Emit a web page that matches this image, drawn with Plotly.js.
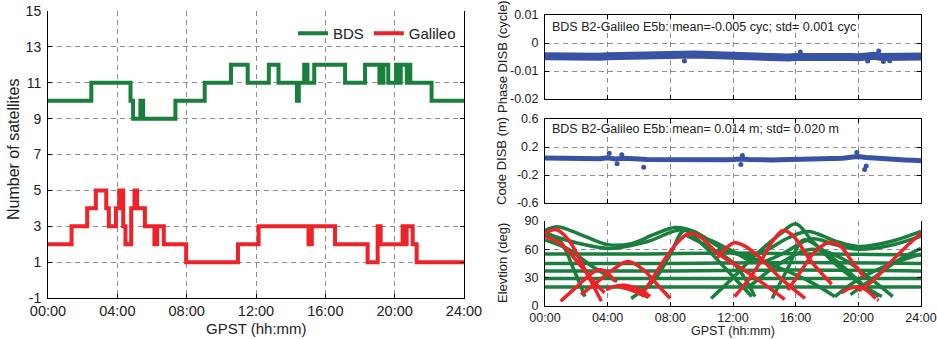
<!DOCTYPE html>
<html>
<head>
<meta charset="utf-8">
<script src="https://cdn.plot.ly/plotly-3.0.1.min.js"></script>
<style>html,body{margin:0;padding:0;background:#fff;}#chart{width:937px;height:339px;}</style>
</head>
<body>
<div id="chart"></div>
<script>
// ---------- DATA ----------
const hourTicks = [0, 4, 8, 12, 16, 20, 24];
const hourLabels = ['00:00', '04:00', '08:00', '12:00', '16:00', '20:00', '24:00'];

// Number of satellites (step series)
const bdsTime = [0, 2.5, 4.76, 4.91, 5.33, 5.49, 7.35, 9.04, 10.56, 11.52, 12.74, 13.3, 14.36, 14.47, 14.78, 14.97, 15.36, 17.14, 18.29, 19.12, 19.35, 19.63, 20.08, 20.25, 20.35, 20.7, 20.8, 20.9, 22.13, 24];
const bdsCount = [10, 11, 10, 9, 10, 9, 10, 11, 12, 11, 12, 11, 10, 11, 12, 11, 12, 11, 12, 11, 12, 11, 12, 11, 12, 11, 12, 11, 10, 10];
const galTime = [0, 1.36, 2.26, 2.76, 3.36, 3.51, 3.92, 4.11, 4.34, 4.47, 4.80, 4.99, 5.14, 5.59, 6.14, 6.30, 6.68, 7.97, 10.96, 12.15, 15.03, 15.22, 16.56, 18.44, 19.02, 19.19, 20.46, 20.55, 20.69, 21.04, 21.27, 24];
const galCount = [2, 3, 4, 5, 4, 3, 4, 5, 3, 2, 4, 5, 4, 3, 2, 3, 2, 1, 2, 3, 2, 3, 2, 1, 3, 2, 3, 2, 3, 2, 1, 1];

// DISB series (half-hour samples of the band)
const disbTime = [0,0.5,1,1.5,2,2.5,3,3.5,4,4.5,5,5.5,6,6.5,7,7.5,8,8.5,9,9.5,10,10.5,11,11.5,12,12.5,13,13.5,14,14.5,15,15.5,16,16.5,17,17.5,18,18.5,19,19.5,20,20.5,21,21.5,22,22.5,23,23.5,24];
const phaseDisb = [-0.0047,-0.0048,-0.0047,-0.0049,-0.0048,-0.0047,-0.0048,-0.0049,-0.0047,-0.0046,-0.0045,-0.0044,-0.0043,-0.0041,-0.0039,-0.0038,-0.0038,-0.0039,-0.0040,-0.0041,-0.0042,-0.0043,-0.0045,-0.0046,-0.0047,-0.0049,-0.0051,-0.0053,-0.0054,-0.0054,-0.0053,-0.0052,-0.0050,-0.0049,-0.0048,-0.0048,-0.0047,-0.0048,-0.0049,-0.0050,-0.0051,-0.0048,-0.0046,-0.0050,-0.0049,-0.0048,-0.0049,-0.0048,-0.0048];
const phaseOutT = [8.9, 16.3, 20.6, 21.3, 21.6, 22.0];
const phaseOutV = [-0.0064, -0.0032, -0.0064, -0.0029, -0.0066, -0.0063];
const codeDisb = [0.043,0.040,0.042,0.038,0.036,0.037,0.035,0.033,0.045,0.030,0.040,0.025,0.028,0.022,0.020,0.018,0.016,0.018,0.015,0.013,0.014,0.012,0.015,0.018,0.020,0.030,0.022,0.016,0.013,0.015,0.018,0.020,0.017,0.015,0.016,0.018,0.022,0.030,0.040,0.055,0.065,0.050,0.040,0.030,0.025,0.020,0.015,0.010,0.005];
const codeOutT = [4.1, 4.6, 4.9, 6.3, 12.5, 12.6, 19.9, 20.4, 20.5];
const codeOutV = [0.11, -0.04, 0.09, -0.09, -0.05, 0.08, 0.12, -0.12, -0.07];

// Elevation tracks: [hour, elevation] pairs
const bdsTracks = [
  [[0,55],[6,55],[12,56],[18,55],[24,54]],
  [[0,45],[8,45],[16,46],[24,45]],
  [[0,37],[8,37],[16,38],[24,37]],
  [[0,29],[8,29],[16,29],[24,29]],
  [[0,20],[8,20],[16,20],[24,20]],
  [[0,80],[0.8,84],[2.5,74],[4,65],[5.5,66],[7,76],[8.3,83],[9.5,79],[11,64],[12.5,54],[14,58],[15.5,72],[16.8,79],[18.5,69],[20,63],[22,68],[24,79]],
  [[0,77],[2,67],[4.2,61],[6.5,68],[8.8,81],[10.5,70],[12,58],[13.5,46],[15,54],[17,71],[18.5,65],[20,60],[22,64],[24,74]],
  [[0,78],[1,68],[1.8,40],[2.55,10]],
  [[0,70],[1.5,60],[3,42],[4.6,26]],
  [[5.5,8],[7,28],[8,55],[8.9,80],[10,66],[11.5,40],[13.2,10]],
  [[10.6,8],[12,30],[13.5,55],[15,76],[16,87],[17,70],[18.5,45],[20,25],[21.3,10]],
  [[9,75],[10.5,62],[12,46],[12.8,28],[13.4,10]],
  [[14.5,8],[15.5,40],[16.5,70],[17.5,62],[19,42],[20.5,20],[21.5,10]],
  [[18.5,10],[20,28],[22,44],[24,55]],
  [[19.5,12],[21,30],[22.5,48],[24,61]],
  [[13,20],[15,45],[17,60],[19,50],[21,26],[22.2,10]],
  [[11,60],[13,52],[15,40],[17,25],[18.5,10]]
];
const galTracks = [
  [[0,77],[0.7,81],[1.5,70],[2.5,40],[3.6,5]],
  [[0,74],[1,66],[2,48],[3,28],[3.8,14]],
  [[1,5],[2,20],[3.2,37],[3.7,38],[4.5,26]],
  [[2.3,12],[3.3,25],[4.3,38],[5.3,47],[6.3,38],[7.2,22],[8,8]],
  [[3.9,17],[4.5,21],[5.1,22],[5.8,19],[6.4,14],[6.7,10]],
  [[4.8,20],[5.5,17],[6.3,11]],
  [[5,20],[5.8,15],[6.6,9]],
  [[6.2,12],[7,33],[8,58],[8.8,73],[9.3,77],[10,72],[11,56],[12.8,37],[15.3,7]],
  [[11,51],[11.6,62],[12.1,67],[12.7,64],[13.6,53],[15,30],[16.6,8]],
  [[12.1,10],[13,28],[13.8,48],[14.5,68],[15.2,80],[15.8,75],[17,47],[18.3,23]],
  [[15.5,17],[16.3,36],[17.2,57],[18.1,67],[18.8,64],[19.6,47],[20.4,30]],
  [[18.9,14],[19.5,19],[20,20],[20.5,17],[21.1,8]],
  [[20,16],[21,28],[22.1,47],[23,62],[24,77]],
  [[21.2,7],[21.3,6]]
];

// ---------- STYLE ----------
const GREEN = '#1a7f3c', RED = '#ee2229', BLUE = '#3953a4';
const FONT = 'Liberation Sans, Arial, sans-serif';
const GRID = '#8f8f8f';

const traces = [];
traces.push({x: bdsTime, y: bdsCount, type: 'scatter', mode: 'lines', name: 'BDS',
  line: {shape: 'hv', color: GREEN, width: 4}, xaxis: 'x', yaxis: 'y'});
traces.push({x: galTime, y: galCount, type: 'scatter', mode: 'lines', name: 'Galileo',
  line: {shape: 'hv', color: RED, width: 4}, xaxis: 'x', yaxis: 'y'});

traces.push({x: disbTime, y: phaseDisb, type: 'scatter', mode: 'lines', showlegend: false,
  line: {color: BLUE, width: 8, shape: 'linear'}, xaxis: 'x2', yaxis: 'y2'});
traces.push({x: phaseOutT, y: phaseOutV, type: 'scatter', mode: 'markers', showlegend: false,
  marker: {color: BLUE, size: 5}, xaxis: 'x2', yaxis: 'y2'});
traces.push({x: disbTime, y: codeDisb, type: 'scatter', mode: 'lines', showlegend: false,
  line: {color: BLUE, width: 5}, xaxis: 'x3', yaxis: 'y3'});
traces.push({x: codeOutT, y: codeOutV, type: 'scatter', mode: 'markers', showlegend: false,
  marker: {color: BLUE, size: 5}, xaxis: 'x3', yaxis: 'y3'});

bdsTracks.forEach(tr => traces.push({x: tr.map(p => p[0]), y: tr.map(p => p[1]), type: 'scatter',
  mode: 'lines', showlegend: false, line: {color: GREEN, width: 3.5, shape: 'spline', smoothing: 1},
  xaxis: 'x4', yaxis: 'y4'}));
galTracks.forEach(tr => traces.push({x: tr.map(p => p[0]), y: tr.map(p => p[1]), type: 'scatter',
  mode: 'lines', showlegend: false, line: {color: RED, width: 3.5, shape: 'spline', smoothing: 1},
  xaxis: 'x4', yaxis: 'y4'}));

const W = 937, H = 339;
const px = v => v / W, py = v => 1 - v / H;

function xax(dom, anchor, showLabels, mirror) {
  return {domain: dom, anchor: anchor, range: [0, 24], tickvals: hourTicks, ticktext: hourLabels,
    showticklabels: showLabels, showgrid: true, gridcolor: GRID, griddash: '5px,4px', gridwidth: 1,
    showline: true, linecolor: '#000', linewidth: 1, mirror: mirror, ticks: 'inside', ticklen: 4,
    tickcolor: '#000', zeroline: false, fixedrange: true, ticklabeloverflow: 'allow'};
}
function yax(dom, anchor, range, vals, labels, size) {
  return {domain: dom, anchor: anchor, range: range, tickvals: vals, ticktext: labels,
    showgrid: true, gridcolor: GRID, griddash: '5px,4px', gridwidth: 1,
    showline: true, linecolor: '#000', linewidth: 1, mirror: 'ticks', ticks: 'inside', ticklen: 4,
    tickcolor: '#000', zeroline: false, fixedrange: true, tickfont: {size: size, color: '#222', family: FONT},
    ticklabelstandoff: 3};
}

const xL = [px(48), px(464)];
const xR = [px(545), px(921)];

const layout = {
  width: W, height: H, margin: {l: 0, r: 0, t: 0, b: 0},
  paper_bgcolor: '#fff', plot_bgcolor: '#fff',
  font: {family: FONT, color: '#222', size: 14},
  showlegend: true,
  legend: {orientation: 'h', x: px(461), xanchor: 'right', y: py(17), yanchor: 'top',
    bgcolor: 'rgba(0,0,0,0)', font: {size: 15, family: FONT, color: '#222'}, itemwidth: 30, tracegroupgap: 0},
  xaxis: Object.assign(xax(xL, 'y', true, false), {tickfont: {size: 14.5, family: FONT, color: '#222'}}),
  yaxis: yax([py(298), py(11)], 'x', [-1, 15], [-1, 1, 3, 5, 7, 9, 11, 13, 15], ['-1', '1', '3', '5', '7', '9', '11', '13', '15'], 14),
  xaxis2: xax(xR, 'y2', false, 'ticks'),
  yaxis2: yax([py(99), py(15)], 'x2', [-0.02, 0.01], [-0.02, -0.01, 0, 0.01], ['-0.02', '-0.01', '0', '0.01'], 12.5),
  xaxis3: xax(xR, 'y3', false, 'ticks'),
  yaxis3: yax([py(203), py(119)], 'x3', [-0.6, 0.6], [-0.6, -0.2, 0.2, 0.6], ['-0.6', '-0.2', '0.2', '0.6'], 12.5),
  xaxis4: Object.assign(xax(xR, 'y4', true, false), {tickfont: {size: 12.5, family: FONT, color: '#222'}}),
  yaxis4: yax([py(306), py(221)], 'x4', [0, 90], [0, 30, 60, 90], ['0', '30', '60', '90'], 12.5),
  annotations: [
    {text: 'Number of satellites', x: px(13), y: py(150), xref: 'paper', yref: 'paper', textangle: -90,
      showarrow: false, font: {size: 16, family: FONT, color: '#222'}, xanchor: 'center', yanchor: 'middle'},
    {text: 'GPST (hh:mm)', x: px(256), y: py(328), xref: 'paper', yref: 'paper', showarrow: false,
      font: {size: 15, family: FONT, color: '#222'}, xanchor: 'center', yanchor: 'middle'},
    {text: 'Phase DISB (cycle)', x: px(502), y: py(57), xref: 'paper', yref: 'paper', textangle: -90,
      showarrow: false, font: {size: 13, family: FONT, color: '#222'}, xanchor: 'center', yanchor: 'middle'},
    {text: 'Code DISB (m)', x: px(502), y: py(161), xref: 'paper', yref: 'paper', textangle: -90,
      showarrow: false, font: {size: 13, family: FONT, color: '#222'}, xanchor: 'center', yanchor: 'middle'},
    {text: 'Elevtion (deg)', x: px(502), y: py(263), xref: 'paper', yref: 'paper', textangle: -90,
      showarrow: false, font: {size: 13, family: FONT, color: '#222'}, xanchor: 'center', yanchor: 'middle'},
    {text: 'GPST (hh:mm)', x: px(733), y: py(331), xref: 'paper', yref: 'paper', showarrow: false,
      font: {size: 12.5, family: FONT, color: '#222'}, xanchor: 'center', yanchor: 'middle'},
    {text: 'BDS B2-Galileo E5b: mean=-0.005 cyc; std= 0.001 cyc', x: px(550), y: py(27), xref: 'paper', yref: 'paper',
      showarrow: false, font: {size: 12.5, family: FONT, color: '#222'}, xanchor: 'left', yanchor: 'middle'},
    {text: 'BDS B2-Galileo E5b: mean= 0.014 m; std= 0.020 m', x: px(550), y: py(129), xref: 'paper', yref: 'paper',
      showarrow: false, font: {size: 12.5, family: FONT, color: '#222'}, xanchor: 'left', yanchor: 'middle'}
  ]
};

Plotly.newPlot('chart', traces, layout, {displayModeBar: false, staticPlot: true});
</script>
</body>
</html>
